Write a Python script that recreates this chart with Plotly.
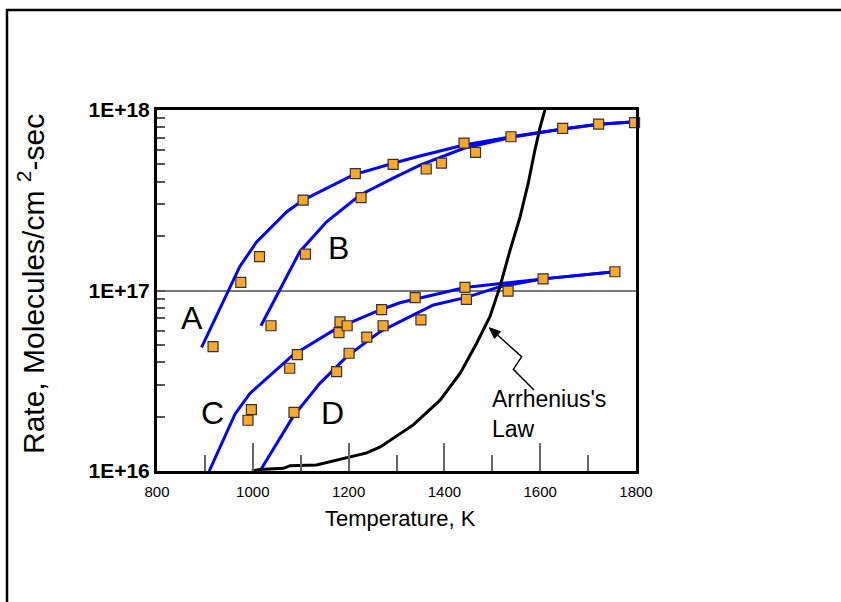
import math
import plotly.graph_objects as go

# ---------------- data ----------------
# fitted curves (Temperature K, Rate molecules/cm^2-sec)
a_T = [893, 945, 973, 1008, 1071, 1105, 1210, 1293, 1349, 1441, 1539, 1647, 1722, 1800]
a_R = [4.84e16, 9.45e16, 1.36e17, 1.86e17, 2.73e17, 3.17e17, 4.37e17, 5.07e17, 5.56e17,
       6.4e17, 7.11e17, 7.85e17, 8.34e17, 8.61e17]
b_T = [1017, 1050, 1098, 1154, 1224, 1293, 1349, 1441, 1543, 1647, 1722, 1800]
b_R = [6.38e16, 9.45e16, 1.64e17, 2.4e17, 3.38e17, 4.19e17, 4.95e17, 6.14e17, 7.08e17,
       7.85e17, 8.34e17, 8.61e17]
c_T = [909, 963, 994, 1084, 1175, 1266, 1307, 1443, 1606, 1756]
c_R = [1.0e16, 2.07e16, 2.69e16, 4.4e16, 6.17e16, 7.8e16, 8.55e16, 1.04e17, 1.16e17, 1.27e17]
d_T = [1015, 1084, 1140, 1196, 1266, 1307, 1377, 1446, 1516, 1606, 1756]
d_R = [1.0e16, 2.0e16, 3.06e16, 4.3e16, 5.92e16, 6.71e16, 8.32e16, 9.16e16, 1.05e17,
       1.16e17, 1.27e17]
arr_T = [998, 1015, 1064, 1078, 1133, 1203, 1238, 1266, 1335, 1391, 1433, 1467, 1495,
         1516, 1537, 1558, 1575, 1589, 1600, 1612]
arr_R = [1.0e16, 1.02e16, 1.035e16, 1.07e16, 1.08e16, 1.19e16, 1.26e16, 1.36e16, 1.8e16,
         2.47e16, 3.48e16, 5.09e16, 7.16e16, 1.05e17, 1.67e17, 2.56e17, 3.93e17, 6.0e17,
         8.07e17, 1.05e18]

# measured points
am_T = [917, 975, 1014, 1105, 1214, 1293, 1441, 1539, 1647, 1722, 1797]
am_R = [4.89e16, 1.11e17, 1.54e17, 3.17e17, 4.44e17, 5.0e17, 6.55e17, 7.11e17, 7.92e17,
        8.36e17, 8.51e17]
bm_T = [1038, 1110, 1226, 1362, 1394, 1465]
bm_R = [6.38e16, 1.59e17, 3.27e17, 4.71e17, 5.08e17, 5.83e17]
cm_T = [990, 997, 1077, 1093, 1180, 1182, 1197, 1269, 1339, 1443, 1606, 1756]
cm_R = [1.91e16, 2.19e16, 3.71e16, 4.41e16, 5.84e16, 6.7e16, 6.38e16, 7.83e16, 9.12e16,
        1.04e17, 1.16e17, 1.27e17]
dm_T = [1086, 1175, 1201, 1238, 1272, 1351, 1446, 1533]
dm_R = [2.11e16, 3.55e16, 4.49e16, 5.51e16, 6.38e16, 6.87e16, 8.93e16, 9.91e16]

x_ticks = [800, 1000, 1200, 1400, 1600, 1800]
x_minor = [900, 1100, 1300, 1500, 1700]
y_ticks = [1e16, 1e17, 1e18]
y_ticktext = ["1E+16", "1E+17", "1E+18"]
y_minor = [k * 10 ** e for e in (16, 17) for k in range(2, 10)]

# ---------------- figure ----------------
W, H = 841, 602
L, R, T, B = 157, 205, 110, 131
PW, PH = W - L - R, H - T - B


def px(x):
    return (x - L) / PW


def py(y):
    return (H - B - y) / PH


FONT = "Arial, Liberation Sans, sans-serif"
BLUE = "#0000FF"

fig = go.Figure()
for xs, ys in [(a_T, a_R), (b_T, b_R), (c_T, c_R), (d_T, d_R)]:
    fig.add_trace(go.Scatter(x=xs, y=ys, mode="lines",
                             line=dict(color=BLUE, width=3), hoverinfo="skip"))
fig.add_trace(go.Scatter(x=arr_T, y=arr_R, mode="lines",
                         line=dict(color="black", width=3), hoverinfo="skip"))
for xs, ys in [(am_T, am_R), (bm_T, bm_R), (cm_T, cm_R), (dm_T, dm_R)]:
    fig.add_trace(go.Scatter(x=xs, y=ys, mode="markers", cliponaxis=False,
                             marker=dict(symbol="square", size=10, color="#F9A82B",
                                         line=dict(color="#333333", width=1.2))))

ann = []
for txt, tx, ty in [("A", 874, 7.02e16), ("B", 1178, 1.71e17), ("C", 915, 2.09e16), ("D", 1166, 2.09e16)]:
    ann.append(dict(x=tx, y=math.log10(ty), xref="x", yref="y", text=txt, showarrow=False,
                    font=dict(family=FONT, size=32, color="black"),
                    xanchor="center", yanchor="middle"))
ann.append(dict(x=1496, y=math.log10(2.07e16), xref="x", yref="y",
                text="Arrhenius's<br>Law", showarrow=False, align="left",
                font=dict(family=FONT, size=23, color="black"),
                xanchor="left", yanchor="middle"))
ann.append(dict(x=px(31), y=py(284), xref="paper", yref="paper",
                text="Rate, Molecules/cm <sup>2</sup>-sec", textangle=-90, showarrow=False,
                font=dict(family=FONT, size=30, color="black"),
                xanchor="center", yanchor="middle"))
ann.append(dict(x=px(400), y=py(518), xref="paper", yref="paper",
                text="Temperature, K", showarrow=False,
                font=dict(family=FONT, size=22, color="black"),
                xanchor="center", yanchor="middle"))

# zig-zag pointer with arrowhead (pixel geometry converted to paper coords)
p1, p2, p3, tip = (534, 390), (513.3, 369.3), (521.7, 356.7), (489.3, 327.7)
dx, dy = tip[0] - p3[0], tip[1] - p3[1]
ln = math.hypot(dx, dy)
ux, uy = dx / ln, dy / ln
hl, hw = 11, 4.5
bx, by = tip[0] - hl * ux, tip[1] - hl * uy
nx, ny = -uy, ux
c1 = (bx + hw * nx, by + hw * ny)
c2 = (bx - hw * nx, by - hw * ny)

shapes = [
    dict(type="line", xref="paper", yref="paper", x0=px(7), x1=px(7), y0=py(602), y1=py(9),
         line=dict(color="black", width=2.5), layer="above"),
    dict(type="line", xref="paper", yref="paper", x0=px(6), x1=px(841), y0=py(10), y1=py(10),
         line=dict(color="black", width=2.5), layer="above"),
    dict(type="path", xref="paper", yref="paper",
         path=f"M {px(p1[0])} {py(p1[1])} L {px(p2[0])} {py(p2[1])} L {px(p3[0])} {py(p3[1])} L {px(bx)} {py(by)}",
         line=dict(color="black", width=1.4)),
    dict(type="path", xref="paper", yref="paper",
         path=f"M {px(tip[0])} {py(tip[1])} L {px(c1[0])} {py(c1[1])} L {px(c2[0])} {py(c2[1])} Z",
         line=dict(color="black", width=1), fillcolor="black"),
]

fig.update_layout(
    width=W, height=H, margin=dict(l=L, r=R, t=T, b=B, pad=0),
    paper_bgcolor="white", plot_bgcolor="white", showlegend=False,
    annotations=ann, shapes=shapes,
    xaxis=dict(range=[800, 1800], tickvals=x_ticks, ticktext=[str(v) for v in x_ticks],
               ticks="inside", ticklen=28, tickwidth=1.5, tickcolor="#666666",
               ticklabelstandoff=5,
               minor=dict(tickvals=x_minor, ticks="inside", ticklen=16, tickwidth=1.5,
                          tickcolor="#666666", showgrid=False),
               showgrid=False, zeroline=False, showline=True, mirror=True,
               linecolor="black", linewidth=3,
               tickfont=dict(family=FONT, size=15, color="black")),
    yaxis=dict(type="log", range=[16, 18], tickvals=y_ticks, ticktext=y_ticktext,
               ticks="inside", ticklen=8, tickwidth=1.5, tickcolor="#555555",
               minor=dict(tickvals=y_minor, ticks="inside", ticklen=8, tickwidth=1.5,
                          tickcolor="#555555", showgrid=False),
               showgrid=True, gridcolor="#777777", gridwidth=1.5,
               zeroline=False, showline=True, mirror=True,
               linecolor="black", linewidth=3,
               tickfont=dict(family=FONT, size=21, color="black", weight="bold")),
)

fig.write_html("out.html")
